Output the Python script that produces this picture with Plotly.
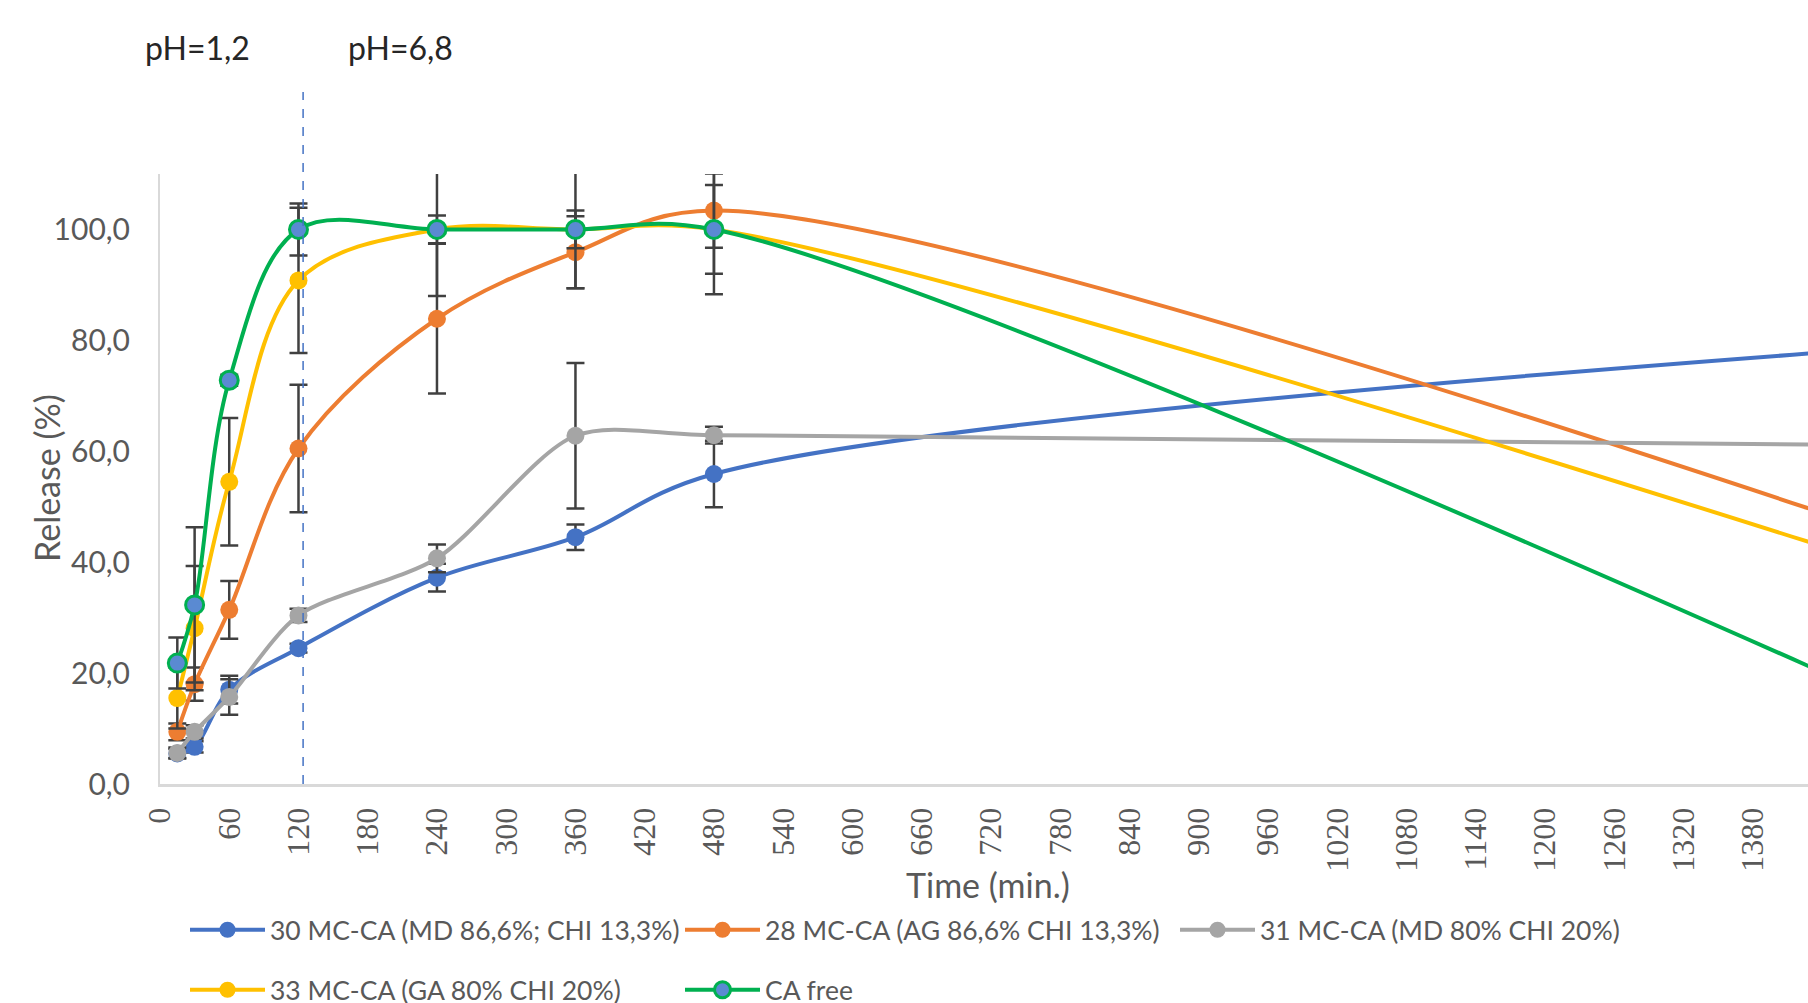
import plotly.graph_objects as go

# ---------------- data ----------------
time_min = [15, 30, 60, 120, 240, 360, 480, 1440]

names = [
    "30 MC-CA (MD 86,6%; CHI 13,3%)",
    "28 MC-CA (AG 86,6% CHI 13,3%)",
    "31 MC-CA (MD 80% CHI 20%)",
    "33 MC-CA (GA 80% CHI 20%)",
    "CA free",
]

rel_30 = [5.5, 6.7, 17.0, 24.5, 37.2, 44.5, 55.9, 77.8]
err_30 = [0.8, 1.0, 2.5, 0.8, 2.5, 2.3, 6.0, 3.0]

rel_28 = [9.4, 18.0, 31.4, 60.5, 83.9, 95.9, 103.4, 48.9]
err_28 = [1.5, 3.0, 5.2, 11.5, 13.5, 6.5, 6.7, 3.0]

rel_31 = [5.6, 9.4, 15.7, 30.4, 40.7, 62.8, 62.9, 61.2]
err_31 = [1.0, 1.2, 3.2, 1.2, 2.5, 13.1, 1.5, 3.0]

rel_33 = [15.5, 28.1, 54.5, 90.8, 100.0, 100.0, 100.0, 42.9]
err_33 = [5.5, 11.2, 11.5, 13.1, 12.0, 10.6, 11.7, 3.0]

rel_free = [21.8, 32.3, 72.8, 100.0, 100.0, 100.0, 100.0, 20.2]
err_free = [4.6, 14.0, 1.0, 4.7, 2.5, 3.4, 8.0, 3.0]

x_ticks = list(range(0, 1441, 60))
y_ticks = [0, 20, 40, 60, 80, 100]
y_ticktext = ["0,0", "20,0", "40,0", "60,0", "80,0", "100,0"]

# ---------------- styling ----------------
W, H = 1808, 1003
ML, MR, MT, MB = 160, 0, 174, 219
PH = H - MT - MB
PW = W - ML - MR

colors = ["#4472C4", "#ED7D31", "#A5A5A5", "#FFC000", "#00B050"]
marker_fill = ["#4472C4", "#ED7D31", "#A5A5A5", "#FFC000", "#5A8AD2"]
smooth = [1, 1, 0.8, 1, 1]
series = [rel_30, rel_28, rel_31, rel_33, rel_free]
errors = [err_30, err_28, err_31, err_33, err_free]
legends = ["legend", "legend", "legend", "legend2", "legend2"]

fig = go.Figure()
for i in range(5):
    fig.add_trace(go.Scatter(
        x=time_min, y=series[i], name=names[i], mode="lines+markers",
        line=dict(color=colors[i], width=4, shape="spline", smoothing=smooth[i]),
        marker=dict(size=18, color=marker_fill[i],
                    line=dict(color=colors[i], width=3 if i == 4 else 0)),
        error_y=dict(type="data", array=errors[i], visible=True,
                     color="#404040", thickness=2.5, width=9),
        legend=legends[i],
    ))

def px_to_paper_x(px):
    return (px - ML) / PW

def px_to_paper_y(py):
    return (H - MB - py) / PH

grey = "#595959"
leg_common = dict(
    orientation="h", xanchor="left", yanchor="middle",
    entrywidth=405, entrywidthmode="pixels", itemwidth=75,
    font=dict(family="Lato", size=26.5, color=grey),
    bgcolor="rgba(0,0,0,0)", borderwidth=0, traceorder="normal",
)

fig.update_layout(
    width=W, height=H,
    margin=dict(l=ML, r=MR, t=MT, b=MB, autoexpand=False),
    paper_bgcolor="white", plot_bgcolor="white",
    showlegend=True,
    legend=dict(x=px_to_paper_x(185), y=px_to_paper_y(930), **leg_common),
    legend2=dict(x=px_to_paper_x(185), y=px_to_paper_y(990), **leg_common),
    xaxis=dict(
        range=[0, 1428], tickmode="array", tickvals=x_ticks,
        ticktext=[str(v) for v in x_ticks], tickangle=-90,
        tickfont=dict(family="Liberation Serif", size=32, color=grey),
        showgrid=False, zeroline=False, showline=True,
        linecolor="#D9D9D9", linewidth=3, ticks="", ticklabelstandoff=8,
    ),
    yaxis=dict(
        range=[0, 110], tickmode="array", tickvals=y_ticks, ticktext=y_ticktext,
        tickfont=dict(family="Lato", size=30, color=grey),
        showgrid=False, zeroline=False, showline=True,
        linecolor="#D9D9D9", linewidth=2, ticks="", ticklabelstandoff=22,
    ),
)

# phase boundary line at 120 min
fig.add_shape(type="line", xref="x", yref="paper", x0=124, x1=124,
              y0=0, y1=px_to_paper_y(92),
              line=dict(color="#4472C4", width=1.5, dash="dash"))

annots = [
    dict(text="Release (%)", x=px_to_paper_x(46), y=px_to_paper_y(478),
         textangle=-90, font=dict(family="Lato", size=34, color=grey)),
    dict(text="Time (min.)", x=px_to_paper_x(988), y=px_to_paper_y(884),
         font=dict(family="Lato", size=34, color=grey)),
    dict(text="pH=1,2", x=px_to_paper_x(197), y=px_to_paper_y(48),
         font=dict(family="Lato", size=32, color="#262626")),
    dict(text="pH=6,8", x=px_to_paper_x(400), y=px_to_paper_y(48),
         font=dict(family="Lato", size=32, color="#262626")),
]
for a in annots:
    fig.add_annotation(xref="paper", yref="paper", showarrow=False,
                       xanchor="center", yanchor="middle", **a)

fig.write_html("out.html",
               config={"displayModeBar": False},
               post_script="document.body.style.margin='0px';"
                           "document.body.style.overflow='hidden';")
